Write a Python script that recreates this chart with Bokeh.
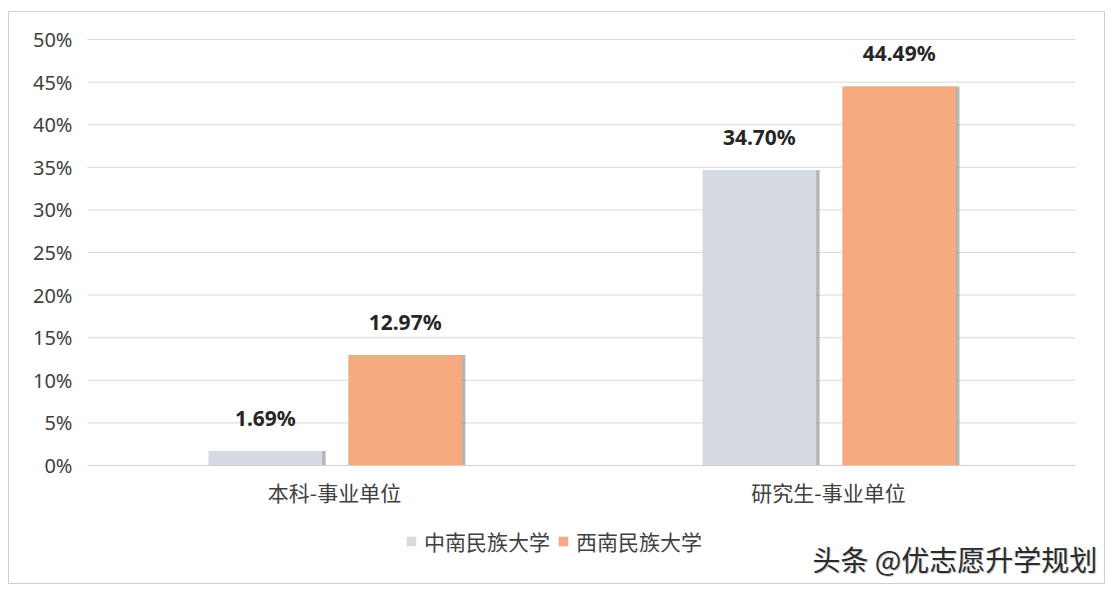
from bokeh.plotting import figure
from bokeh.models import ColumnDataSource, Range1d, Legend, LegendItem, Label, FixedTicker, CustomJSTickFormatter
from bokeh.core.properties import value
from bokeh.embed import file_html
from bokeh.resources import INLINE

categories = ["本科-事业单位", "研究生-事业单位"]
series_names = ["中南民族大学", "西南民族大学"]
zhongnan = [1.69, 34.70]
xinan = [12.97, 44.49]
y_ticks = [0, 5, 10, 15, 20, 25, 30, 35, 40, 45, 50]

GRAY = "#d6dae3"
ORANGE = "#f5aa80"
TXT = "#404040"
CJK = "Noto Sans CJK SC"
OFF_A, OFF_B, BAR_W = -0.140, 0.143, 0.23

idx = list(range(len(categories)))
centers = [i + 0.5 for i in idx]
src = ColumnDataSource(dict(
    xa=[c + OFF_A for c in centers],
    xb=[c + OFF_B for c in centers],
    xa_s=[c + OFF_A + 0.007 for c in centers],
    xb_s=[c + OFF_B + 0.007 for c in centers],
    a=zhongnan,
    b=xinan,
    la=[f"{v:.2f}%" for v in zhongnan],
    lb=[f"{v:.2f}%" for v in xinan],
))
grid_src = ColumnDataSource(dict(
    y=y_ticks[1:],
    x0=[0] * (len(y_ticks) - 1),
    x1=[len(categories)] * (len(y_ticks) - 1),
))

p = figure(
    width=1116, height=592,
    x_range=Range1d(-0.1599, 2.0587),
    y_range=Range1d(-13.85, 53.29),
    output_backend="svg", toolbar_location=None,
    min_border_left=8, min_border_right=12, min_border_top=11, min_border_bottom=9,
)
p.outline_line_color = "#cfcfcf"
p.outline_line_width = 1
p.background_fill_color = "white"
p.border_fill_color = "white"
p.xgrid.grid_line_color = None
p.ygrid.grid_line_color = None

# horizontal gridlines over the plotting area only
p.segment(x0="x0", x1="x1", y0="y", y1="y", source=grid_src,
          line_color="#d9d9d9", line_width=1)

# bar shadows
p.vbar(x="xa_s", top="a", width=BAR_W, source=src,
       fill_color="#6e6e6e", fill_alpha=0.5, line_color=None)
p.vbar(x="xb_s", top="b", width=BAR_W, source=src,
       fill_color="#6e6e6e", fill_alpha=0.5, line_color=None)

ra = p.vbar(x="xa", top="a", width=BAR_W, source=src, fill_color=GRAY, line_color=None)
rb = p.vbar(x="xb", top="b", width=BAR_W, source=src, fill_color=ORANGE, line_color=None)

p.text(x="xa", y="a", text="la", source=src,
       text_align="center", text_baseline="bottom", y_offset=-19,
       text_font=value("Noto Sans"), text_font_style="bold", text_font_size="21px",
       text_color="#262626")
p.text(x="xb", y="b", text="lb", source=src,
       text_align="center", text_baseline="bottom", y_offset=-19,
       text_font=value("Noto Sans"), text_font_style="bold", text_font_size="21px",
       text_color="#262626")

# y axis drawn at x = 0 (left edge of the plotting area)
yax = p.yaxis[0]
yax.fixed_location = 0
yax.ticker = FixedTicker(ticks=y_ticks)
yax.formatter = CustomJSTickFormatter(code="return tick + '%';")
yax.axis_line_color = None
yax.major_tick_line_color = None
yax.minor_tick_line_color = None
yax.major_tick_out = 0
yax.major_tick_in = 0
yax.major_label_text_font = "Noto Sans"
yax.major_label_text_font_size = "20px"
yax.major_label_text_color = TXT
yax.major_label_standoff = 15

# x axis drawn at y = 0
xax = p.xaxis[0]
xax.fixed_location = 0
xax.bounds = (0, len(categories))
xax.ticker = FixedTicker(ticks=centers)
xax.major_label_overrides = {c: name for c, name in zip(centers, categories)}
xax.axis_line_color = "#d0d0d0"
xax.major_tick_line_color = None
xax.minor_tick_line_color = None
xax.major_tick_out = 0
xax.major_tick_in = 0
xax.major_label_text_font = CJK
xax.major_label_text_font_size = "21px"
xax.major_label_text_color = TXT
xax.major_label_standoff = 11

legend = Legend(
    items=[LegendItem(label=series_names[0], renderers=[ra]),
           LegendItem(label=series_names[1], renderers=[rb])],
    orientation="horizontal", location=(397, 27),
    border_line_color=None, background_fill_alpha=0,
    label_text_font=CJK, label_text_font_size="21px", label_text_color=TXT,
    glyph_width=12, glyph_height=12, padding=0, margin=0, spacing=7,
    label_standoff=7,
)
p.add_layout(legend, "center")

p.add_layout(Label(x=804, y=25, x_units="screen", y_units="screen",
                   text="头条 @优志愿升学规划", text_font=CJK, text_font_size="28px",
                   text_color="#c8c8c8", text_baseline="middle", x_offset=1, y_offset=-1))
p.add_layout(Label(x=804, y=25, x_units="screen", y_units="screen",
                   text="头条 @优志愿升学规划", text_font=CJK, text_font_size="28px",
                   text_color="#2b2b2b", text_baseline="middle"))

open("out.html", "w").write(file_html(p, INLINE))
